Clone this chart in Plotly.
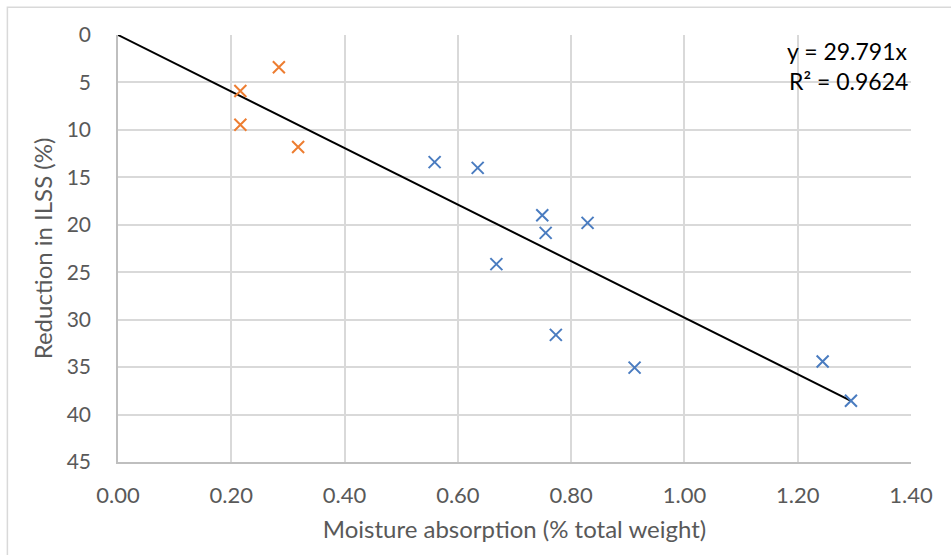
import numpy as np
import plotly.graph_objects as go

# Moisture absorption (% of total weight) vs. reduction in ILSS (%)
blue_x = [0.559, 0.635, 0.749, 0.755, 0.829, 0.668, 0.773, 0.912, 1.244, 1.294]
blue_y = [13.4, 14.0, 19.0, 20.85, 19.8, 24.15, 31.6, 35.05, 34.4, 38.55]
orange_x = [0.284, 0.216, 0.216, 0.318]
orange_y = [3.4, 5.9, 9.45, 11.8]

slope = 29.791
r_squared = 0.9624

x_ticks = [0.0, 0.2, 0.4, 0.6, 0.8, 1.0, 1.2, 1.4]
y_ticks = [0, 5, 10, 15, 20, 25, 30, 35, 40, 45]

FONT = "Lato, 'Open Sans', sans-serif"
BLUE = "#4a7cc0"
ORANGE = "#ed7d31"
GREY_TEXT = "#595959"

all_x = blue_x + orange_x
fit_x = np.array([0.0, max(all_x)])
fit_y = slope * fit_x

fig = go.Figure()

fig.add_trace(go.Scatter(
    x=fit_x, y=fit_y, mode="lines",
    line=dict(color="black", width=2), showlegend=False, hoverinfo="skip"))

fig.add_trace(go.Scatter(
    x=blue_x, y=blue_y, mode="markers",
    marker=dict(symbol="x-thin", size=12, line=dict(color=BLUE, width=2)),
    showlegend=False))

fig.add_trace(go.Scatter(
    x=orange_x, y=orange_y, mode="markers",
    marker=dict(symbol="x-thin", size=12, line=dict(color=ORANGE, width=2)),
    showlegend=False))

# trendline equation and R²
for label, ypos in [(f"y = {slope}x", 1.0), (f"R² = {r_squared}", 0.929)]:
    fig.add_annotation(
        xref="paper", yref="paper", x=0.9985, y=ypos,
        xanchor="right", yanchor="top", text=label, showarrow=False,
        font=dict(family=FONT, size=23, color="black"))

# chart area frame
fig.add_shape(type="rect", xref="paper", yref="paper",
              x0=-0.1395, y0=-0.3, x1=1.2, y1=1.065,
              line=dict(color="#d9d9d9", width=1.5), layer="below")

fig.update_layout(
    width=951, height=555,
    margin=dict(l=118, r=40, t=35, b=93),
    paper_bgcolor="white", plot_bgcolor="white",
    font=dict(family=FONT, color=GREY_TEXT, size=22),
    xaxis=dict(
        range=[0, 1.4], tickvals=x_ticks, ticktext=[f"{v:.2f}" for v in x_ticks],
        showgrid=True, gridcolor="#d9d9d9", gridwidth=1.5,
        zeroline=False, showline=True, linecolor="#bfbfbf", linewidth=1.5,
        ticks="", ticklabelstandoff=13, tickfont=dict(size=22, color=GREY_TEXT),
        title=dict(text="Moisture absorption (% total weight)",
                   font=dict(size=24, color=GREY_TEXT), standoff=14),
    ),
    yaxis=dict(
        range=[45, 0], tickvals=y_ticks,
        showgrid=True, gridcolor="#d9d9d9", gridwidth=1.5,
        zeroline=False, showline=True, linecolor="#bfbfbf", linewidth=1.5,
        ticks="", ticklabelstandoff=21, tickfont=dict(size=21, color=GREY_TEXT),
        title=dict(text="Reduction in ILSS (%)",
                   font=dict(size=24, color=GREY_TEXT), standoff=7),
    ),
)

fig.write_html("out.html")
